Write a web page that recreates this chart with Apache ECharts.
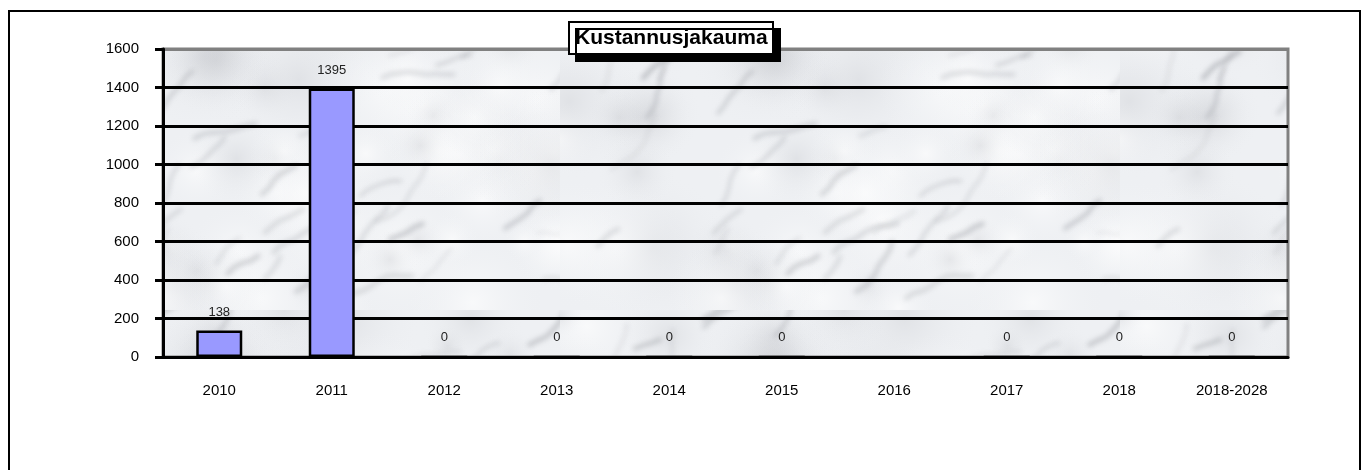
<!DOCTYPE html>
<html>
<head>
<meta charset="utf-8">
<script src="https://cdn.jsdelivr.net/npm/echarts@6/dist/echarts.min.js"></script>
<style>
  html, body { margin: 0; padding: 0; background: #fff; }
  #chart { width: 1367px; height: 470px; }
</style>
</head>
<body>
<div id="chart"></div>
<script>
// data
var years = ['2010', '2011', '2012', '2013', '2014', '2015', '2016', '2017', '2018', '2018-2028'];
var costs = [138, 1395, 0, 0, 0, 0, null, 0, 0, 0];
var yTicks = { min: 0, max: 1600, step: 200 };

// grey marble-ish texture for the plot background
function marble() {
    var c = document.createElement('canvas');
    c.width = 560; c.height = 310;
    var g = c.getContext('2d');
    g.fillStyle = '#eef0f3';
    g.fillRect(0, 0, c.width, c.height);
    var seed = 11;
    function rnd() { seed = (seed * 16807) % 2147483647; return seed / 2147483647; }
    // soft cloudy patches
    for (var i = 0; i < 70; i++) {
        var x = rnd() * c.width, y = rnd() * c.height, r = 20 + rnd() * 60;
        var grd = g.createRadialGradient(x, y, 0, x, y, r);
        var shade = rnd() < 0.55 ? 'rgba(255,255,255,0.6)' : 'rgba(175,177,183,0.22)';
        grd.addColorStop(0, shade);
        grd.addColorStop(1, 'rgba(238,240,243,0)');
        g.fillStyle = grd;
        g.fillRect(x - r, y - r, 2 * r, 2 * r);
    }
    // veins, mostly diagonal, blurred
    g.filter = 'blur(2.5px)';
    g.lineCap = 'round';
    for (var v = 0; v < 40; v++) {
        var px = rnd() * c.width, py = rnd() * c.height;
        var ang = 0.3 + rnd() * 0.6;
        g.strokeStyle = 'rgba(125,128,136,' + (0.12 + rnd() * 0.28) + ')';
        g.lineWidth = 2 + rnd() * 3;
        g.beginPath();
        g.moveTo(px, py);
        var steps = 3 + Math.floor(rnd() * 7);
        for (var s = 0; s < steps; s++) {
            ang += (rnd() - 0.5) * 0.7;
            px += Math.cos(ang) * 9;
            py -= Math.sin(ang) * 9;
            g.lineTo(px, py);
        }
        g.stroke();
    }
    g.filter = 'none';
    return c;
}

var chart = echarts.init(document.getElementById('chart'));

var splitColors = [];
for (var k = yTicks.min; k < yTicks.max; k += yTicks.step) splitColors.push('#000');
splitColors.push('#808080');

var font = 'Liberation Sans, Arial';

var option = {
    animation: false,
    title: {
        text: 'Kustannusjakauma',
        left: 569,
        top: 22,
        padding: [5, 6, 4, 6],
        backgroundColor: '#fff',
        borderColor: '#000',
        borderWidth: 2,
        shadowColor: '#000',
        shadowBlur: 0,
        shadowOffsetX: 7,
        shadowOffsetY: 7,
        textStyle: { fontFamily: font, fontWeight: 'bold', fontSize: 21, lineHeight: 23, color: '#000' },
        z: 10
    },
    grid: {
        left: 163, right: 79, top: 49, bottom: 113,
        show: true,
        backgroundColor: { image: marble(), repeat: 'repeat' },
        borderColor: '#808080',
        borderWidth: 3
    },
    xAxis: {
        type: 'category',
        data: years,
        axisLine: { lineStyle: { color: '#000', width: 3 } },
        axisTick: { length: 3, lineStyle: { color: '#000', width: 2 } },
        axisLabel: { color: '#000', fontFamily: font, fontSize: 15, margin: 26, interval: 0 }
    },
    yAxis: {
        type: 'value',
        min: yTicks.min, max: yTicks.max, interval: yTicks.step,
        axisLine: { show: true, lineStyle: { color: '#000', width: 3 } },
        axisTick: { show: true, length: 8, lineStyle: { color: '#000', width: 3 } },
        axisLabel: { color: '#000', fontFamily: font, fontSize: 15, margin: 24, formatter: function (v) { return String(v); } },
        splitLine: { show: true, lineStyle: { color: splitColors, width: 3 } }
    },
    series: [{
        type: 'bar',
        data: costs,
        barWidth: 46,
        itemStyle: { color: '#9999ff', borderColor: '#000', borderWidth: 2.5 },
        label: {
            show: true,
            position: 'top',
            distance: 12,
            color: '#222',
            fontFamily: font,
            fontSize: 13
        }
    }],
    graphic: [{
        type: 'rect',
        shape: { x: 9, y: 11, width: 1351, height: 520 },
        style: { fill: 'none', stroke: '#000', lineWidth: 2 },
        silent: true
    }]
};

chart.setOption(option);
</script>
</body>
</html>
